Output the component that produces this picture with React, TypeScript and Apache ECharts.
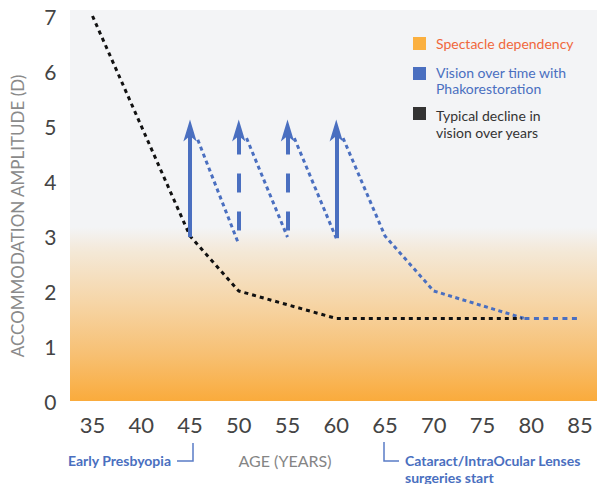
import React, { useEffect, useRef } from "react";
import * as echarts from "echarts";

// ---- data ----
const xTicks = [35, 40, 45, 50, 55, 60, 65, 70, 75, 80, 85];
const yTicks = [0, 1, 2, 3, 4, 5, 6, 7];

// typical decline in vision (black dotted)
const typicalAges = [35, 45, 50, 60, 79];
const typicalValues = [7, 3, 2, 1.5, 1.5];

// phakorestoration arrows (age, from, tip, dashed?)
const arrowAges = [45, 50, 55, 60];
const arrowFrom = [2.98, 3.1, 3.1, 2.96];
const arrowTip = [5.12, 5.12, 5.12, 5.12];
const arrowDashed = [false, true, true, false];

// decline after each phakorestoration (blue dotted)
const decline1: [number, number][] = [[45.8, 4.75], [50, 2.85]];
const decline2: [number, number][] = [[50.8, 4.78], [55, 2.98]];
const decline3: [number, number][] = [[55.7, 4.78], [60, 2.96]];
const decline4: [number, number][] = [[60.7, 4.78], [65, 3], [70, 2], [79.3, 1.5]];
const blueTail: [number, number][] = [[79.3, 1.5], [85, 1.5]];

const legendLabels = [
  "Spectacle dependency",
  "Vision over time with\nPhakorestoration",
  "Typical decline in\nvision over years",
];
const yAxisName = "ACCOMMODATION AMPLITUDE (D)";
const xAxisName = "AGE (YEARS)";
const noteLeft = "Early Presbyopia";
const noteRight = "Cataract/IntraOcular Lenses\nsurgeries start";

const BLUE = "#4a6fc0";
const BLACK = "#111111";
const FONT = "Lato";

export default function App() {
  const ref = useRef<HTMLDivElement>(null);
  useEffect(() => {
    if (!ref.current) return;
    const chart = echarts.init(ref.current, null, { renderer: "svg" });

    const typical = typicalAges.map((a, i) => [a, typicalValues[i]]);
    const dotted = (data: [number, number][], dash: number[]) => ({
      type: "line",
      data,
      symbol: "none",
      z: 3,
      lineStyle: { color: BLUE, width: 3, type: dash },
    });

    // shafts end inside the arrow head
    const shafts = arrowAges.map((a, i) => [
      {
        coord: [a, arrowFrom[i]],
        symbol: "none",
        lineStyle: {
          color: BLUE,
          width: 4,
          type: arrowDashed[i] ? [19, 19] : "solid",
        },
      },
      { coord: [a, arrowTip[i] - 0.3], symbol: "none" },
    ]);
    // heads: tiny invisible segment whose end symbol is the arrow (tip at endpoint)
    const heads = arrowAges.map((a, i) => [
      {
        coord: [a, arrowTip[i] - 0.05],
        symbol: "none",
        lineStyle: { color: BLUE, width: 0, opacity: 1 },
      },
      {
        coord: [a, arrowTip[i]],
        symbol: "arrow",
        symbolSize: [10, 22],
        itemStyle: { color: BLUE },
      },
    ]);

    chart.setOption({
      animation: false,
      textStyle: { fontFamily: FONT },
      grid: { left: 92.5, right: 17, top: 16, bottom: 83 },
      xAxis: {
        type: "value",
        min: 35,
        max: 85,
        interval: 5,
        axisLine: { show: false },
        axisTick: { show: false },
        splitLine: { show: false },
        axisLabel: {
          fontSize: 22,
          color: "#444",
          fontFamily: FONT,
          margin: 12,
          formatter: (v: number) => (xTicks.includes(v) ? String(v) : ""),
        },
      },
      yAxis: {
        type: "value",
        min: 0,
        max: 7,
        interval: 1,
        axisLine: { show: false },
        axisTick: { show: false },
        splitLine: { show: false },
        axisLabel: {
          fontSize: 21,
          color: "#444",
          fontFamily: FONT,
          margin: 36,
          formatter: (v: number) => (yTicks.includes(v) ? String(v) : ""),
        },
      },
      graphic: [
        {
          type: "rect",
          z: -10,
          silent: true,
          shape: { x: 70, y: 10, width: 527, height: 391 },
          style: {
            fill: new echarts.graphic.LinearGradient(0, 0, 0, 1, [
              { offset: 0, color: "#f3f4f6" },
              { offset: 0.555, color: "#f3f4f6" },
              { offset: 0.62, color: "#f4e8d6" },
              { offset: 0.75, color: "#f6d5a6" },
              { offset: 0.88, color: "#f7c073" },
              { offset: 1, color: "#faab3c" },
            ]),
          },
        },
        // legend
        { type: "rect", shape: { x: 413, y: 37, width: 13, height: 13 }, style: { fill: "#fbb040" } },
        {
          type: "text",
          x: 436,
          y: 43.5,
          style: { text: legendLabels[0], fill: "#f0683c", fontSize: 14, fontFamily: FONT, verticalAlign: "middle" },
        },
        { type: "rect", shape: { x: 413, y: 67, width: 13, height: 13 }, style: { fill: BLUE } },
        {
          type: "text",
          x: 436,
          y: 80,
          style: { text: legendLabels[1], fill: BLUE, fontSize: 14, lineHeight: 16, fontFamily: FONT, verticalAlign: "middle" },
        },
        { type: "rect", shape: { x: 413, y: 107, width: 13, height: 13 }, style: { fill: "#333" } },
        {
          type: "text",
          x: 436,
          y: 123.5,
          style: { text: legendLabels[2], fill: "#333", fontSize: 14, lineHeight: 17, fontFamily: FONT, verticalAlign: "middle" },
        },
        // axis names
        {
          type: "text",
          x: 17,
          y: 216,
          rotation: Math.PI / 2,
          style: {
            text: yAxisName,
            fill: "#8a8a8a",
            fontSize: 17,
            fontFamily: FONT,
            align: "center",
            verticalAlign: "middle",
          },
        },
        {
          type: "text",
          x: 285,
          y: 460,
          style: {
            text: xAxisName,
            fill: "#858585",
            fontSize: 16,
            fontFamily: FONT,
            align: "center",
            verticalAlign: "middle",
          },
        },
        // notes
        {
          type: "text",
          x: 171,
          y: 460,
          style: { text: noteLeft, fill: BLUE, fontSize: 14, fontWeight: "bold", fontFamily: FONT, align: "right", verticalAlign: "middle" },
        },
        {
          type: "polyline",
          shape: { points: [[177, 461], [193, 461], [193, 443]] },
          style: { stroke: "#5a7cc6", lineWidth: 1.5, fill: null },
        },
        {
          type: "polyline",
          shape: { points: [[384, 442], [384, 461], [399, 461]] },
          style: { stroke: "#5a7cc6", lineWidth: 1.5, fill: null },
        },
        {
          type: "text",
          x: 405,
          y: 468.5,
          style: { text: noteRight, fill: BLUE, fontSize: 14, lineHeight: 17, fontWeight: "bold", fontFamily: FONT, align: "left", verticalAlign: "middle" },
        },
      ],
      series: [
        {
          type: "line",
          data: typical,
          symbol: "none",
          z: 4,
          lineStyle: { color: BLACK, width: 3, type: [4, 4] },
        },
        dotted(decline1, [4, 3.5]),
        dotted(decline2, [4, 3.5]),
        dotted(decline3, [4, 3.5]),
        dotted(decline4, [4, 3.5]),
        dotted(blueTail, [5, 4.5]),
        {
          type: "line",
          data: [],
          symbol: "none",
          markLine: {
            silent: true,
            symbol: ["none", "none"],
            label: { show: false },
            emphasis: { disabled: true },
            data: [...shafts, ...heads],
          },
        },
      ],
    });
    return () => chart.dispose();
  }, []);
  return (
    <div
      ref={ref}
      style={{ position: "fixed", left: 0, top: 0, width: 597, height: 484, background: "#fff" }}
    />
  );
}
